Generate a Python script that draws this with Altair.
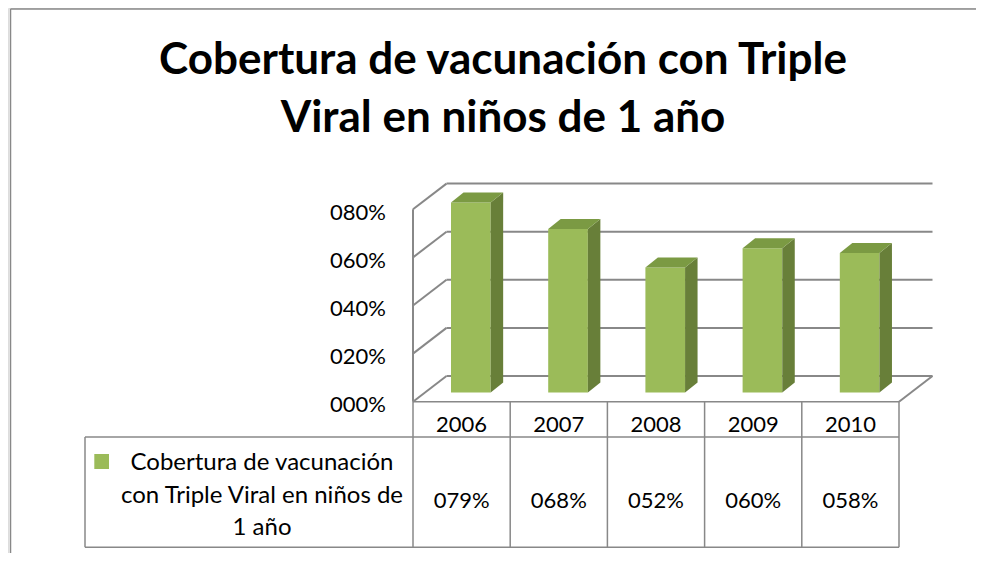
import altair as alt
import pandas as pd

# ---------------- data ----------------
years = ["2006", "2007", "2008", "2009", "2010"]
values = [79, 68, 52, 60, 58]
ticks = [0, 20, 40, 60, 80]
series_name = ["Cobertura de vacunación", "con Triple Viral en niños de", "1 año"]
title_lines = ["Cobertura de vacunación con Triple", "Viral en niños de 1 año"]

# ---------------- geometry (x in category slots, y in percent) ----------------
PX_X = 97.2     # px per category slot
PX_Y = 2.405    # px per percent point
X0, Y0 = 413.0, 401.7  # page position of (0, 0%)
VIEW_L, VIEW_R, VIEW_T, VIEW_B = 8, 976, 8, 553


def ux(px):
    return (px - X0) / PX_X


def uy(py):
    return (Y0 - py) / PX_Y


xs = alt.Scale(domain=[ux(VIEW_L), ux(VIEW_R)], nice=False, zero=False)
ys = alt.Scale(domain=[uy(VIEW_B), uy(VIEW_T)], nice=False, zero=False)

WDX, WDY = 33.5 / PX_X, 25.7 / PX_Y     # wall depth
BDX, BDY = 12.5 / PX_X, 10.0 / PX_Y     # bar depth
BAR_L, BAR_W = 0.391, 0.408
BAR_BASE = uy(392.5)
N = len(years)

GRID = "#888888"
FRONT, SIDE, TOP = "#9BBB59", "#687F39", "#7B9A43"


def X(f="x"):
    return alt.X(f"{f}:Q", scale=xs, axis=None)


def Y(f="y"):
    return alt.Y(f"{f}:Q", scale=ys, axis=None)


# ---------------- title ----------------
title_df = pd.DataFrame(dict(x=[ux(503)] * 2, y=[uy(74), uy(132)], label=title_lines))
title = alt.Chart(title_df).mark_text(
    baseline="alphabetic", font="Lato", fontSize=44, fontWeight="bold", color="black"
).encode(x=X(), y=Y(), text="label:N")

# ---------------- walls / grid ----------------
seg = []
for k in ticks:
    seg.append(dict(x=WDX, x2=N + WDX, y=k + WDY, y2=k + WDY))   # back wall
    seg.append(dict(x=0, x2=WDX, y=k, y2=k + WDY))               # side wall
seg.append(dict(x=0, x2=0, y=0, y2=ticks[-1]))                   # front-left edge
seg.append(dict(x=N, x2=N + WDX, y=0, y2=WDY))                   # floor right edge
grid = alt.Chart(pd.DataFrame(seg)).mark_rule(color=GRID, strokeWidth=2).encode(
    x=X(), x2="x2:Q", y=Y(), y2="y2:Q")

# ---------------- bars ----------------
front_rows, side_rows, top_rows = [], [], []
for i, (yr, v) in enumerate(zip(years, values)):
    L = BAR_L + i
    R = L + BAR_W
    front_rows.append(dict(year=yr, x=L, x2=R, y=BAR_BASE, y2=BAR_BASE + v))
    side_rows.append(dict(year=yr, x=R, y=BAR_BASE, y2=BAR_BASE + v))
    side_rows.append(dict(year=yr, x=R + BDX, y=BAR_BASE + BDY, y2=BAR_BASE + v + BDY))
    top_rows.append(dict(year=yr, y=BAR_BASE + v, x=L, x2=R))
    top_rows.append(dict(year=yr, y=BAR_BASE + v + BDY, x=L + BDX, x2=R + BDX))

front = alt.Chart(pd.DataFrame(front_rows)).mark_rect(color=FRONT).encode(
    x=X(), x2="x2:Q", y=Y(), y2="y2:Q")
side = alt.Chart(pd.DataFrame(side_rows)).mark_area(color=SIDE, orient="vertical").encode(
    x=X(), y=Y(), y2="y2:Q", detail="year:N")
top = alt.Chart(pd.DataFrame(top_rows)).mark_area(color=TOP, orient="horizontal").encode(
    y=Y(), x=X(), x2="x2:Q", detail="year:N")

# ---------------- y tick labels ----------------
tick_df = pd.DataFrame(dict(y=ticks, label=[f"{t:03d}%" for t in ticks], x=[ux(386)] * len(ticks)))
tick_text = alt.Chart(tick_df).mark_text(
    align="right", baseline="alphabetic", dy=10.5, font="Lato", fontSize=22, color="black"
).encode(x=X(), y=Y(), text="label:N")

# ---------------- data table ----------------
T_MID, T_BOT, T_LEFT = uy(437), uy(547.3), ux(85)
tseg = [dict(x=0, x2=N, y=0, y2=0),
        dict(x=T_LEFT, x2=N, y=T_MID, y2=T_MID),
        dict(x=T_LEFT, x2=N, y=T_BOT, y2=T_BOT),
        dict(x=T_LEFT, x2=T_LEFT, y=T_MID, y2=T_BOT)]
for i in range(N + 1):
    tseg.append(dict(x=i, x2=i, y=0, y2=T_BOT))
# outer chart border
tseg.append(dict(x=ux(10.5), x2=ux(10.5), y=uy(9), y2=uy(VIEW_B)))
tseg.append(dict(x=ux(10.5), x2=ux(VIEW_R), y=uy(9), y2=uy(9)))
table_lines = alt.Chart(pd.DataFrame(tseg)).mark_rule(color=GRID, strokeWidth=1.5).encode(
    x=X(), x2="x2:Q", y=Y(), y2="y2:Q")

year_df = pd.DataFrame(dict(x=[i + 0.5 for i in range(N)], y=[uy(431.5)] * N, label=years))
year_text = alt.Chart(year_df).mark_text(
    baseline="alphabetic", font="Lato", fontSize=22, color="black"
).encode(x=X(), y=Y(), text="label:N")

val_df = pd.DataFrame(dict(x=[i + 0.5 for i in range(N)], y=[uy(508)] * N,
                           label=[f"{v:03d}%" for v in values]))
val_text = alt.Chart(val_df).mark_text(
    baseline="alphabetic", font="Lato", fontSize=22, color="black"
).encode(x=X(), y=Y(), text="label:N")

leg_df = pd.DataFrame(dict(x=[ux(262)] * 3, y=[uy(470), uy(503), uy(535)], label=series_name))
leg_text = alt.Chart(leg_df).mark_text(
    baseline="alphabetic", font="Lato", fontSize=24, color="black"
).encode(x=X(), y=Y(), text="label:N")

key_df = pd.DataFrame([dict(x=ux(94.3), x2=ux(109), y=uy(454), y2=uy(469))])
key = alt.Chart(key_df).mark_rect(color=FRONT).encode(x=X(), x2="x2:Q", y=Y(), y2="y2:Q")

chart = alt.layer(
    title, grid, front, side, top, tick_text, table_lines, year_text, val_text, leg_text, key
).properties(
    width=VIEW_R - VIEW_L,
    height=VIEW_B - VIEW_T,
    autosize=alt.AutoSizeParams(type="none"),
    padding={"top": 0, "left": 0, "right": 0, "bottom": 0},
).configure_view(strokeWidth=0).configure(background="white")

chart.save("out.html", embed_options={"renderer": "svg", "actions": False})
